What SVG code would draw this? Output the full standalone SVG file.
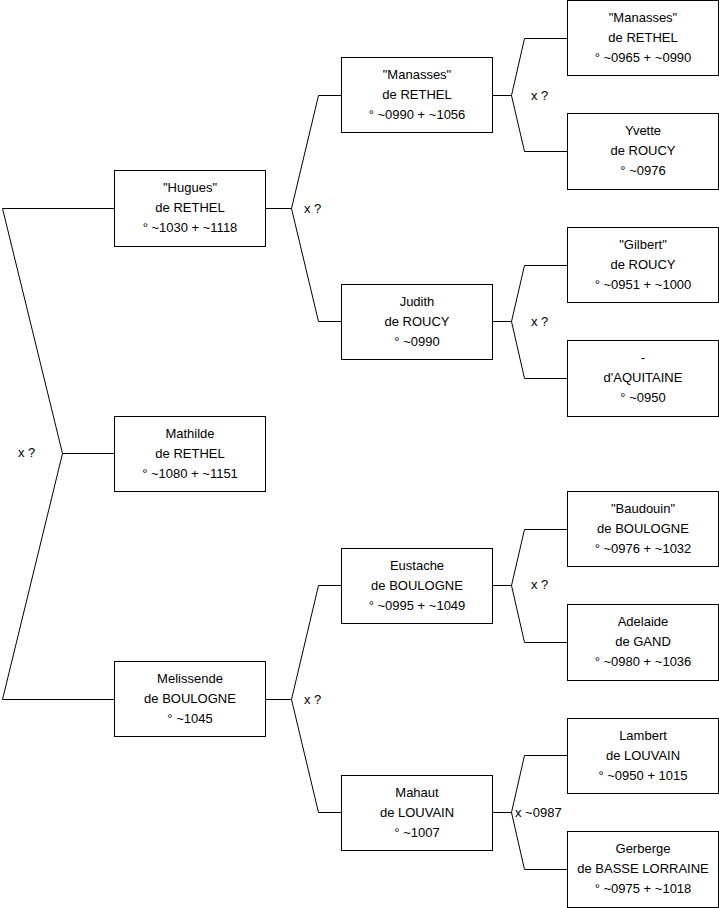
<svg xmlns="http://www.w3.org/2000/svg" width="719" height="908" viewBox="0 0 719 908">
<style>
rect{fill:#fff;stroke:#000;stroke-width:1}
text{font-family:"Liberation Sans",Arial,sans-serif;font-size:13px;fill:#000}
.c text{text-anchor:middle}
#connectors path{fill:none;stroke:#000;stroke-width:1}
</style>
<rect x="0" y="0" width="719" height="908" style="stroke:none"/>
<g id="connectors">
<path d="M114.5,208.5H2.5L62.5,453.5L2.5,699.5H114.5M62.5,453.5H114.5"/>
<path d="M265.5,208.5H291.5L318.5,95.5H341M291.5,208.5L318.5,321.5H341"/>
<path d="M265.5,699.5H291.5L318.5,585.5H341M291.5,699.5L318.5,812.5H341"/>
<path d="M492,95.5H511.5L524.5,38.5H568M511.5,95.5L524.5,151.5H568"/>
<path d="M492,321.5H511.5L524.5,265.5H568M511.5,321.5L524.5,378.5H568"/>
<path d="M492,585.5H511.5L524.5,529.5H568M511.5,585.5L524.5,642.5H568"/>
<path d="M492,812.5H511.5L524.5,755.5H568M511.5,812.5L524.5,869.5H568"/>
<g id="labels">
<text x="18" y="457">x ?</text>
<text x="304" y="213">x ?</text>
<text x="304" y="704">x ?</text>
<text x="531" y="100">x ?</text>
<text x="531" y="326">x ?</text>
<text x="531" y="589">x ?</text>
<text x="515" y="817">x ~0987</text>
</g>
</g>
<g id="n_hugues" class="c"><rect x="114.5" y="170.5" width="151" height="76"/><text x="190" y="192">"Hugues"</text><text x="190" y="212">de RETHEL</text><text x="190" y="232">° ~1030 + ~1118</text></g>
<g id="n_mathilde" class="c"><rect x="114.5" y="416.5" width="151" height="75"/><text x="190" y="438">Mathilde</text><text x="190" y="458">de RETHEL</text><text x="190" y="478">° ~1080 + ~1151</text></g>
<g id="n_melissende" class="c"><rect x="114.5" y="661.5" width="151" height="75"/><text x="190" y="683">Melissende</text><text x="190" y="703">de BOULOGNE</text><text x="190" y="723">° ~1045</text></g>
<g id="n_manasses2" class="c"><rect x="341.5" y="57.5" width="151" height="75"/><text x="417" y="79">"Manasses"</text><text x="417" y="99">de RETHEL</text><text x="417" y="119">° ~0990 + ~1056</text></g>
<g id="n_judith" class="c"><rect x="341.5" y="284.5" width="151" height="75"/><text x="417" y="306">Judith</text><text x="417" y="326">de ROUCY</text><text x="417" y="346">° ~0990</text></g>
<g id="n_eustache" class="c"><rect x="341.5" y="548.5" width="151" height="75"/><text x="417" y="570">Eustache</text><text x="417" y="590">de BOULOGNE</text><text x="417" y="610">° ~0995 + ~1049</text></g>
<g id="n_mahaut" class="c"><rect x="341.5" y="775.5" width="151" height="75"/><text x="417" y="797">Mahaut</text><text x="417" y="817">de LOUVAIN</text><text x="417" y="837">° ~1007</text></g>
<g id="n_manasses1" class="c"><rect x="567.5" y="0.5" width="151" height="75"/><text x="643" y="22">"Manasses"</text><text x="643" y="42">de RETHEL</text><text x="643" y="62">° ~0965 + ~0990</text></g>
<g id="n_yvette" class="c"><rect x="567.5" y="113.5" width="151" height="76"/><text x="643" y="135">Yvette</text><text x="643" y="155">de ROUCY</text><text x="643" y="175">° ~0976</text></g>
<g id="n_gilbert" class="c"><rect x="567.5" y="227.5" width="151" height="75"/><text x="643" y="249">"Gilbert"</text><text x="643" y="269">de ROUCY</text><text x="643" y="289">° ~0951 + ~1000</text></g>
<g id="n_aquitaine" class="c"><rect x="567.5" y="340.5" width="151" height="76"/><text x="643" y="362">-</text><text x="643" y="382">d'AQUITAINE</text><text x="643" y="402">° ~0950</text></g>
<g id="n_baudouin" class="c"><rect x="567.5" y="491.5" width="151" height="75"/><text x="643" y="513">"Baudouin"</text><text x="643" y="533">de BOULOGNE</text><text x="643" y="553">° ~0976 + ~1032</text></g>
<g id="n_adelaide" class="c"><rect x="567.5" y="604.5" width="151" height="76"/><text x="643" y="626">Adelaide</text><text x="643" y="646">de GAND</text><text x="643" y="666">° ~0980 + ~1036</text></g>
<g id="n_lambert" class="c"><rect x="567.5" y="718.5" width="151" height="75"/><text x="643" y="740">Lambert</text><text x="643" y="760">de LOUVAIN</text><text x="643" y="780">° ~0950 + 1015</text></g>
<g id="n_gerberge" class="c"><rect x="567.5" y="831.5" width="151" height="76"/><text x="643" y="853">Gerberge</text><text x="643" y="873">de BASSE LORRAINE</text><text x="643" y="893">° ~0975 + ~1018</text></g>
</svg>
